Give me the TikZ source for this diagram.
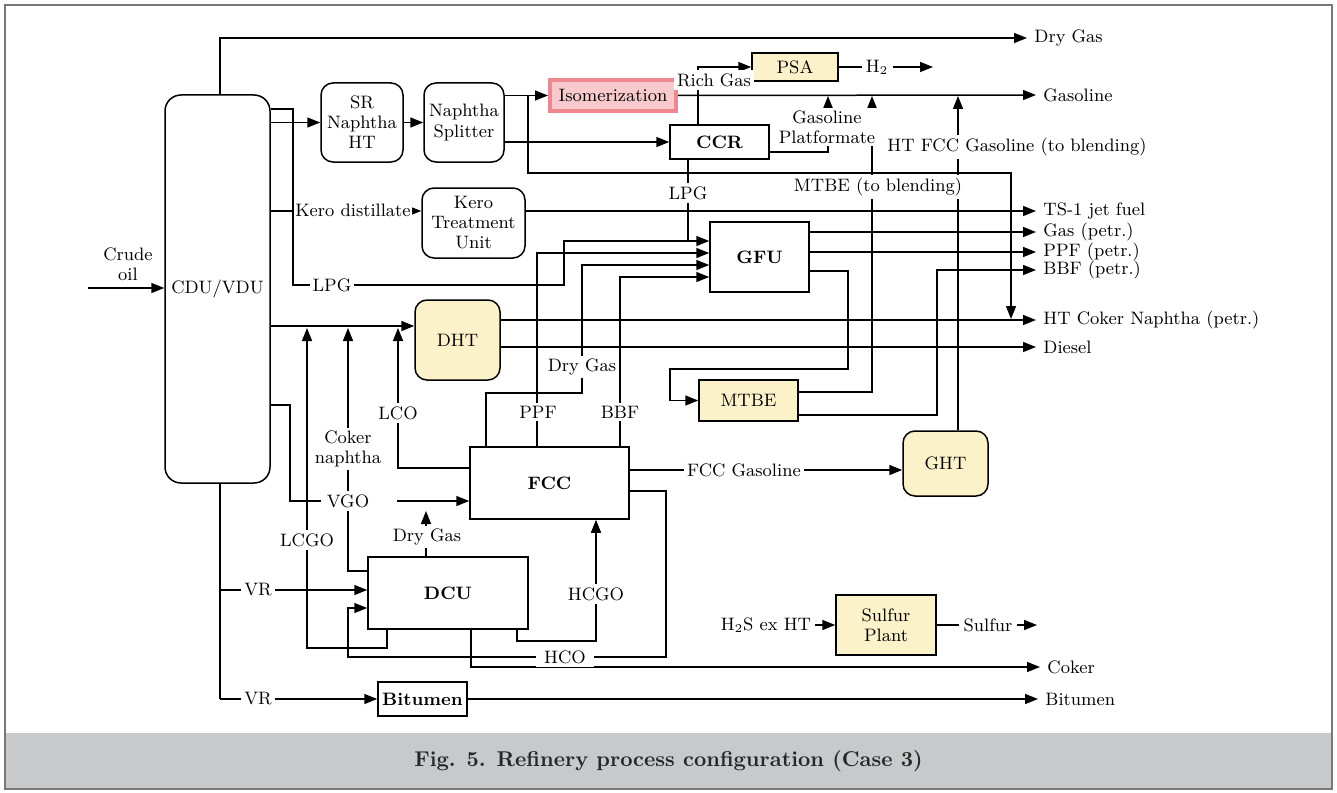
\documentclass[tikz,border=0pt]{standalone}
\usepackage{fontspec}
\usepackage{tikz}
\usetikzlibrary{arrows.meta}

\begin{document}
\begin{tikzpicture}[x=0.5pt,y=-0.5pt,
    every node/.style={font=\fontsize{9}{10}\selectfont},
    flow/.style={line width=0.75pt},
    arr/.style={flow,-{Triangle[length=6.5pt,width=5pt]}},
    unit/.style={draw,line width=0.75pt,inner sep=1pt,align=center},
    rbox/.style={unit,rounded corners=6pt},
    boldunit/.style={unit,font=\fontsize{9}{10}\selectfont\bfseries},
    feed/.style={fill=white,inner sep=1.5pt,align=center},
    prod/.style={anchor=west,inner sep=3.5pt}]
    % colours, frame and caption band %
    \definecolor{unitfill}{RGB}{252,242,201}
    \definecolor{isofill}{RGB}{248,202,206}
    \definecolor{isoline}{RGB}{238,136,142}
    \definecolor{band}{RGB}{200,201,203}
    \definecolor{framegray}{RGB}{120,120,120}
    \useasboundingbox (0,0) rectangle (1337,792);
    \fill[band] (5,733) rectangle (1332,789);
    \draw[framegray,line width=1.2pt] (5,5) rectangle (1332,789);
    \node[font=\fontsize{10.7}{13}\selectfont\bfseries,text=black!85] (caption) at (668.5,761) {Fig. 5. Refinery process configuration (Case 3)};

    % process units %
    \node[rbox,rounded corners=8pt,minimum width=52.5pt,minimum height=194pt] (cdu) at (217.5,289) {CDU/VDU};
    \node[rbox,minimum width=41pt,minimum height=39.5pt] (srht) at (362,122.5) {SR\\Naphtha\\HT};
    \node[rbox,minimum width=40pt,minimum height=39.5pt] (split) at (464,122.5) {Naphtha\\Splitter};
    \node[rbox,minimum width=51.5pt,minimum height=35pt] (kero) at (473.5,223) {Kero\\Treatment\\Unit};
    \node[unit,draw=isoline,fill=isofill,line width=2pt,minimum width=63pt,minimum height=15.5pt] (iso) at (613,95.5) {Isomerization};
    \node[unit,fill=unitfill,minimum width=43pt,minimum height=14pt] (psa) at (795,67) {PSA};
    \node[boldunit,minimum width=49.5pt,minimum height=17pt] (ccr) at (719.5,142) {CCR};
    \node[boldunit,minimum width=49.5pt,minimum height=35pt] (gfu) at (759.5,257) {GFU};
    \node[rbox,fill=unitfill,minimum width=42.5pt,minimum height=40pt] (dht) at (457.5,340) {DHT};
    \node[unit,fill=unitfill,minimum width=49.5pt,minimum height=20.5pt] (mtbe) at (748.5,400.5) {MTBE};
    \node[boldunit,minimum width=79.5pt,minimum height=36pt] (fcc) at (549.5,483) {FCC};
    \node[rbox,fill=unitfill,minimum width=42.5pt,minimum height=32.5pt] (ght) at (945.5,463.5) {GHT};
    \node[boldunit,minimum width=80pt,minimum height=36pt] (dcu) at (448,593) {DCU};
    \node[unit,fill=unitfill,minimum width=50pt,minimum height=30pt] (sulf) at (886,625) {Sulfur\\Plant};
    \node[boldunit,minimum width=44.5pt,minimum height=17pt] (bit) at (422.5,699) {Bitumen};

    % products %
    \node[prod] (drygasout) at (1027,38) {Dry Gas};
    \node[prod] (gasout) at (1036,95) {Gasoline};
    \node[prod] (jetout) at (1036,211) {TS-1 jet fuel};
    \node[prod] (gaspetr) at (1036,232) {Gas (petr.)};
    \node[prod] (ppfpetr) at (1036,252) {PPF (petr.)};
    \node[prod] (bbfpetr) at (1036,270) {BBF (petr.)};
    \node[prod] (htcn) at (1036,320) {HT Coker Naphtha (petr.)};
    \node[prod] (diesel) at (1036,347) {Diesel};
    \node[prod] (cokerout) at (1040,667) {Coker};
    \node[prod] (bitout) at (1038,699) {Bitumen};
    \node[align=center] (crude) at (128,264) {Crude\\oil};
    \node[inner sep=2pt] (h2) at (877,67) {H$_2$};
    \node[inner sep=2pt] (h2s) at (766,625) {H$_2$S ex HT};
    \node[inner sep=2pt] (sulfout) at (988,625) {Sulfur};
    \coordinate (crudein) at (88,288);
    \coordinate (h2end) at (933,67);
    \coordinate (sulfend) at (1037,625);
    \coordinate (dcugas) at (426,511);

    % CDU/VDU streams %
    \draw[arr] (crudein) -- (cdu.west |- crudein);
    \draw[arr] (220,0 |- cdu.north) -- (220,38) -- (drygasout.west);
    \draw[arr] (cdu.east |- srht.west) -- (srht.west);
    \draw[arr] (srht) -- (split);
    \draw[arr] (cdu.east |- 0,109) -- (293,109) -- (293,285) -- (564,285) -- (564,241) -- (gfu.west |- 0,241);
    \draw[arr] (cdu.east |- jetout.west) -- (kero.west |- jetout.west);
    \draw[arr] (kero.east |- jetout.west) -- (jetout.west);
    \draw[arr] (cdu.east |- 0,326) -- (dht.west |- 0,326);
    \draw[flow] (cdu.east |- 0,405) -- (290,405) -- (290,501) -- (368,501);
    \draw[arr] (397,501) -- (fcc.west |- 0,501);
    \draw[flow] (220,0 |- cdu.south) -- (220,699);
    \draw[arr] (220,590) -- (dcu.west |- 0,590);
    \draw[arr] (220,699) -- (bit.west);
    \draw[arr] (bit.east) -- (bitout.west);

    % naphtha train %
    \draw[arr] (split.east |- iso.west) -- (iso.west);
    \draw[arr] (528,0 |- iso.west) -- (528,173) -- (1011,173) -- (1011,319);
    \draw[arr] (split.east |- ccr.west) -- (ccr.west);
    \draw[arr] (iso.east) -- (gasout.west);
    \draw[arr] (698,0 |- ccr.north) -- (698,0 |- psa.west) -- (psa.west);
    \draw[flow] (psa.east) -- (h2.west);
    \draw[arr] (h2.east) -- (h2end);
    \draw[arr] (ccr.east |- 0,152) -- (828,152) -- (828,96);
    \draw[flow] (688,0 |- ccr.south) -- (688,241);

    % GFU and MTBE %
    \draw[arr] (537,0 |- fcc.north) -- (537,253) -- (gfu.west |- 0,253);
    \draw[arr] (486,0 |- fcc.north) -- (486,393) -- (582,393) -- (582,265) -- (gfu.west |- 0,265);
    \draw[arr] (620,0 |- fcc.north) -- (620,277) -- (gfu.west |- 0,277);
    \draw[arr] (gfu.east |- gaspetr.west) -- (gaspetr.west);
    \draw[arr] (gfu.east |- ppfpetr.west) -- (ppfpetr.west);
    \draw[arr] (gfu.east |- 0,271) -- (848,271) -- (848,369) -- (670,369) -- (670,0 |- mtbe.west) -- (mtbe.west);
    \draw[arr] (mtbe.east |- 0,392) -- (872,392) -- (872,96);
    \draw[arr] (mtbe.east |- 0,415) -- (937,415) -- (937,0 |- bbfpetr.west) -- (bbfpetr.west);

    % DHT %
    \draw[arr] (dht.east |- htcn.west) -- (htcn.west);
    \draw[arr] (dht.east |- diesel.west) -- (diesel.west);
    \draw[arr] (fcc.west |- 0,468) -- (398,468) -- (398,328);
    \draw[arr] (dcu.west |- 0,571) -- (348,571) -- (348,328);
    \draw[arr] (387,0 |- dcu.south) -- (387,648) -- (307,648) -- (307,328);

    % FCC, GHT and DCU %
    \draw[arr] (fcc.east |- 0,470) -- (ght.west |- 0,470);
    \draw[arr] (958,0 |- ght.north) -- (958,96);
    \draw[arr] (517,0 |- dcu.south) -- (517,641) -- (596,641) -- (596,0 |- fcc.south);
    \draw[arr] (fcc.east |- 0,491) -- (666,491) -- (666,657) -- (348,657) -- (348,608) -- (dcu.west |- 0,608);
    \draw[arr] (471,0 |- dcu.south) -- (471,667) -- (cokerout.west);
    \draw[arr] (426,0 |- dcu.north) -- (dcugas);
    \draw[arr] (h2s.east) -- (sulf.west);
    \draw[flow] (sulf.east) -- (sulfout.west);
    \draw[arr] (sulfout.east) -- (sulfend);

    % stream labels %
    \node[feed] (lpgcdu) at (332,285) {LPG};
    \node[feed,inner xsep=0.5pt] (kerodist) at (353,210) {Kero distillate};
    \node[feed] (richgas) at (714,80) {Rich Gas};
    \node[feed] (platf) at (827,127) {Gasoline\\Platformate};
    \node[feed] (lpgccr) at (688,193) {LPG};
    \node[feed] (mtbeblend) at (878,187) {MTBE (to blending)};
    \node[feed] (htfcc) at (1017,147) {HT FCC Gasoline (to blending)};
    \node[feed] (drygasfcc) at (582,367) {Dry Gas};
    \node[feed] (ppf) at (538,412) {PPF};
    \node[feed] (bbf) at (620,412) {BBF};
    \node[feed] (lco) at (398,413) {LCO};
    \node[feed] (cokernaph) at (348,449) {Coker\\naphtha};
    \node[feed,inner xsep=3pt] (vgo) at (348,501) {VGO};
    \node[feed] (lcgo) at (307,540) {LCGO};
    \node[feed] (drygasdcu) at (427,537) {Dry Gas};
    \node[feed] (hcgo) at (596,594) {HCGO};
    \node[feed,inner xsep=4pt] (hco) at (565,657) {HCO};
    \node[feed] (fccgas) at (744,470) {FCC Gasoline};
    \node[feed] (vrdcu) at (258,590) {VR};
    \node[feed] (vrbit) at (258,699) {VR};
\end{tikzpicture}
\end{document}
